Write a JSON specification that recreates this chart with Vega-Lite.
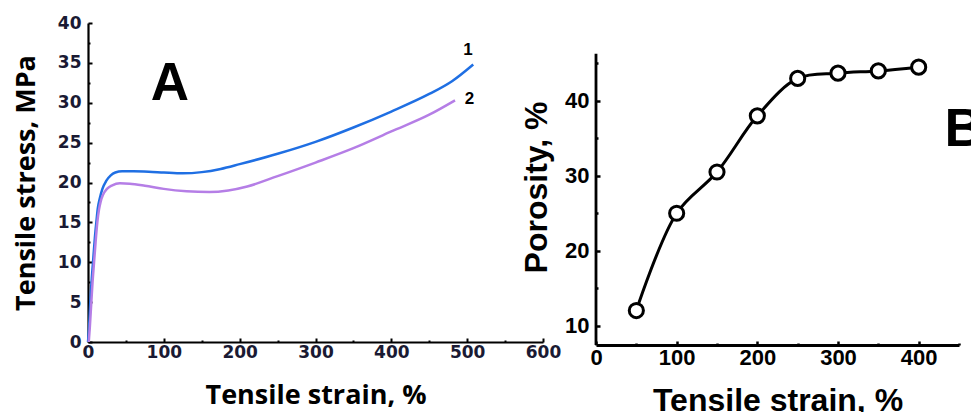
{
  "$schema": "https://vega.github.io/schema/vega-lite/v6.json",
  "padding": {"left": 12, "top": 14, "right": 0, "bottom": 0},
  "background": "white",
  "spacing": -41,
  "config": {"view": {"stroke": null}},
  "datasets": {
    "curves": [
      {"s": "1", "x": 0, "y": 0}, {"s": "1", "x": 1.5, "y": 2}, {"s": "1", "x": 3, "y": 5}, {"s": "1", "x": 5, "y": 8},
      {"s": "1", "x": 7, "y": 10.5}, {"s": "1", "x": 9, "y": 13}, {"s": "1", "x": 11, "y": 15}, {"s": "1", "x": 13, "y": 16.8},
      {"s": "1", "x": 15.5, "y": 18}, {"s": "1", "x": 19, "y": 19.2}, {"s": "1", "x": 24, "y": 20.2}, {"s": "1", "x": 30, "y": 20.9},
      {"s": "1", "x": 36, "y": 21.25}, {"s": "1", "x": 45, "y": 21.4}, {"s": "1", "x": 60, "y": 21.4}, {"s": "1", "x": 80, "y": 21.35},
      {"s": "1", "x": 100, "y": 21.25}, {"s": "1", "x": 125, "y": 21.15}, {"s": "1", "x": 150, "y": 21.3}, {"s": "1", "x": 175, "y": 21.7},
      {"s": "1", "x": 200, "y": 22.3}, {"s": "1", "x": 250, "y": 23.6}, {"s": "1", "x": 300, "y": 25.1}, {"s": "1", "x": 350, "y": 26.9},
      {"s": "1", "x": 400, "y": 28.9}, {"s": "1", "x": 450, "y": 31.1}, {"s": "1", "x": 480, "y": 32.7}, {"s": "1", "x": 508, "y": 34.8},
      {"s": "2", "x": 1, "y": 0}, {"s": "2", "x": 2.5, "y": 2}, {"s": "2", "x": 4.4, "y": 5}, {"s": "2", "x": 6, "y": 7.5},
      {"s": "2", "x": 8, "y": 10}, {"s": "2", "x": 10, "y": 12.5}, {"s": "2", "x": 12.3, "y": 15}, {"s": "2", "x": 14.5, "y": 16.6},
      {"s": "2", "x": 16.7, "y": 17.6}, {"s": "2", "x": 20, "y": 18.5}, {"s": "2", "x": 25, "y": 19.2}, {"s": "2", "x": 32, "y": 19.65},
      {"s": "2", "x": 42, "y": 19.9}, {"s": "2", "x": 55, "y": 19.85}, {"s": "2", "x": 75, "y": 19.6}, {"s": "2", "x": 100, "y": 19.2},
      {"s": "2", "x": 130, "y": 18.9}, {"s": "2", "x": 160, "y": 18.8}, {"s": "2", "x": 185, "y": 19.0}, {"s": "2", "x": 210, "y": 19.5},
      {"s": "2", "x": 250, "y": 20.8}, {"s": "2", "x": 300, "y": 22.5}, {"s": "2", "x": 350, "y": 24.3}, {"s": "2", "x": 400, "y": 26.4},
      {"s": "2", "x": 450, "y": 28.5}, {"s": "2", "x": 484, "y": 30.3}
    ],
    "labelsA": [
      {"t": "A", "x": 108, "y": 32.4, "size": "big"},
      {"t": "1", "x": 501, "y": 36.6, "size": "small"},
      {"t": "2", "x": 503, "y": 30.5, "size": "small"}
    ],
    "porosity": [
      {"strain": 50, "porosity": 12}, {"strain": 100, "porosity": 25}, {"strain": 150, "porosity": 30.5},
      {"strain": 200, "porosity": 38}, {"strain": 250, "porosity": 43}, {"strain": 300, "porosity": 43.7},
      {"strain": 350, "porosity": 44}, {"strain": 400, "porosity": 44.5}
    ],
    "labelsB": [{"t": "B", "x": 432, "y": 36.1}],
    "axisLineB": [{"x": 0, "y1": 7.4, "y2": 46.3}]
  },
  "hconcat": [
    {
      "width": 455,
      "height": 319,
      "resolve": {"axis": {"x": "independent", "y": "independent"}},
      "layer": [
        {
          "data": {"name": "curves"},
          "mark": {"type": "line", "interpolate": "monotone", "strokeWidth": 2.5},
          "encoding": {
            "x": {"field": "x", "type": "quantitative",
              "scale": {"domain": [0, 600], "nice": false},
              "axis": {"orient": "bottom", "values": [0, 100, 200, 300, 400, 500, 600], "title": "Tensile strain, %",
                "titleFont": "Open Sans", "titleFontWeight": "bold", "titleFontSize": 27, "titleColor": "#000", "titlePadding": 22,
                "labelFont": "DejaVu Sans", "labelFontWeight": "bold", "labelFontSize": 17, "labelColor": "#1a1a33", "labelPadding": 6,
                "tickSize": -4, "tickWidth": 2, "tickColor": "#000", "domainColor": "#000", "domainWidth": 2.2, "grid": false, "labelFlush": false}},
            "y": {"field": "y", "type": "quantitative",
              "scale": {"domain": [0, 40], "nice": false},
              "axis": {"orient": "left", "values": [0, 5, 10, 15, 20, 25, 30, 35, 40], "title": "Tensile stress, MPa",
                "titleFont": "Open Sans", "titleFontWeight": "bold", "titleFontSize": 27, "titleColor": "#000", "titlePadding": 17,
                "labelFont": "DejaVu Sans", "labelFontWeight": "bold", "labelFontSize": 17, "labelColor": "#1a1a33", "labelPadding": 11,
                "tickSize": -4, "tickWidth": 2, "tickColor": "#000", "domainColor": "#000", "domainWidth": 2.2, "grid": false}},
            "color": {"field": "s", "type": "nominal", "scale": {"domain": ["1", "2"], "range": ["#1f6fe3", "#b57ee6"]}, "legend": null}
          }
        },
        {
          "data": {"name": "labelsA"},
          "mark": {"type": "text", "font": "Liberation Sans", "fontWeight": "bold", "color": "#000", "baseline": "middle", "align": "center"},
          "encoding": {
            "x": {"field": "x", "type": "quantitative",
              "axis": {"orient": "bottom", "values": [50, 150, 250, 350, 450, 550], "labels": false, "domain": false, "title": null,
                "tickSize": -2, "tickWidth": 2, "tickColor": "#000", "grid": false}},
            "y": {"field": "y", "type": "quantitative",
              "axis": {"orient": "left", "values": [2.5, 7.5, 12.5, 17.5, 22.5, 27.5, 32.5, 37.5], "labels": false, "domain": false, "title": null,
                "tickSize": -2, "tickWidth": 2, "tickColor": "#000", "grid": false}},
            "text": {"field": "t"},
            "size": {"field": "size", "type": "nominal", "scale": {"domain": ["big", "small"], "range": [53, 17]}, "legend": null}
          }
        }
      ]
    },
    {
      "width": 363,
      "height": 322,
      "resolve": {"axis": {"x": "independent", "y": "independent"}},
      "layer": [
        {
          "data": {"name": "axisLineB"},
          "mark": {"type": "rule", "color": "#000", "strokeWidth": 2.8},
          "encoding": {
            "x": {"field": "x", "type": "quantitative", "axis": null},
            "y": {"field": "y1", "type": "quantitative", "axis": null},
            "y2": {"field": "y2"}
          }
        },
        {
          "data": {"name": "porosity"},
          "mark": {"type": "line", "interpolate": "catmull-rom", "color": "#000", "strokeWidth": 3},
          "encoding": {
            "x": {"field": "strain", "type": "quantitative",
              "scale": {"domain": [0, 450], "nice": false},
              "axis": {"orient": "bottom", "values": [0, 100, 200, 300, 400], "title": "Tensile strain, %",
                "titleFont": "Liberation Sans", "titleFontWeight": "bold", "titleFontSize": 32, "titleColor": "#000", "titlePadding": 17,
                "labelFont": "Liberation Sans", "labelFontWeight": "bold", "labelFontSize": 22, "labelColor": "#000", "labelPadding": 6,
                "tickSize": -4, "tickWidth": 2.5, "tickColor": "#000", "domainColor": "#000", "domainWidth": 2.8, "grid": false, "labelFlush": false}},
            "y": {"field": "porosity", "type": "quantitative",
              "scale": {"domain": [7.4, 50.4], "nice": false, "zero": false},
              "axis": {"orient": "left", "values": [10, 20, 30, 40], "title": "Porosity, %", "titleY": 164, "domain": false,
                "titleFont": "Liberation Sans", "titleFontWeight": "bold", "titleFontSize": 32, "titleColor": "#000", "titlePadding": 11,
                "labelFont": "Liberation Sans", "labelFontWeight": "bold", "labelFontSize": 22, "labelColor": "#000", "labelPadding": 11,
                "tickSize": -4, "tickWidth": 2.5, "tickColor": "#000", "grid": false}}
          }
        },
        {
          "data": {"name": "porosity"},
          "mark": {"type": "point", "shape": "circle", "filled": true, "fill": "#fff", "stroke": "#000", "strokeWidth": 3, "size": 200, "opacity": 1},
          "encoding": {
            "x": {"field": "strain", "type": "quantitative", "axis": null},
            "y": {"field": "porosity", "type": "quantitative", "axis": null}
          }
        },
        {
          "data": {"name": "labelsB"},
          "mark": {"type": "text", "font": "Liberation Sans", "fontWeight": "bold", "fontSize": 54, "color": "#000", "baseline": "middle", "align": "left"},
          "encoding": {
            "x": {"field": "x", "type": "quantitative",
              "axis": {"orient": "bottom", "values": [50, 150, 250, 350, 450], "labels": false, "domain": false, "title": null,
                "tickSize": -2, "tickWidth": 2.5, "tickColor": "#000", "grid": false}},
            "y": {"field": "y", "type": "quantitative",
              "axis": {"orient": "left", "values": [15, 25, 35, 45], "labels": false, "domain": false, "title": null,
                "tickSize": -2, "tickWidth": 2.5, "tickColor": "#000", "grid": false}},
            "text": {"field": "t"}
          }
        }
      ]
    }
  ]
}
